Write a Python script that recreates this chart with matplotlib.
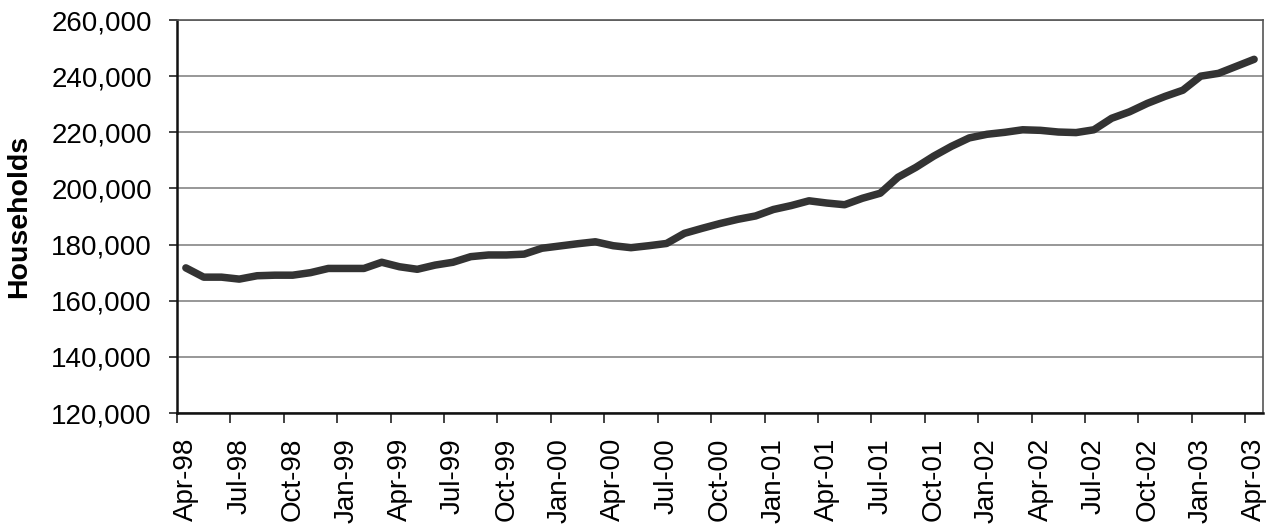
import pandas as pd
import numpy as np
import matplotlib.pyplot as plt
from matplotlib.ticker import FuncFormatter, FixedLocator

# =========================
# Data: monthly households, Apr-98 .. Apr-03
# =========================
start_month = '1998-04-01'
households = [
    171700, 168400, 168400, 167700, 168900, 169100, 169100, 170000, 171500, 171500,
    171500, 173700, 172100, 171200, 172700, 173700, 175700, 176300, 176300, 176600,
    178700, 179500, 180300, 181000, 179600, 178900, 179600, 180400, 184000, 185800,
    187500, 189000, 190200, 192500, 193900, 195600, 194800, 194200, 196500, 198300,
    204000, 207500, 211500, 215000, 218000, 219300, 220000, 220900, 220700, 220100,
    219900, 220900, 225000, 227300, 230300, 232800, 235000, 240000, 241000, 243500,
    246000,
]
y_ticks = [120000, 140000, 160000, 180000, 200000, 220000, 240000, 260000]

months = pd.date_range(start=start_month, periods=len(households), freq='MS')
month_labels = [d.strftime('%b-%y') for d in months]

plt.rcParams['font.family'] = ['Liberation Sans', 'DejaVu Sans']

fig = plt.figure(figsize=(12.75, 5.31), dpi=100)
ax = fig.add_axes([0.1388, 0.2222, 0.8518, 0.7401])

x = np.arange(len(households))
ax.plot(x, households, color='#333333', linewidth=5.4, solid_capstyle='round',
        solid_joinstyle='round', zorder=3)

# axes limits / grid
ax.set_xlim(-0.5, len(households) - 0.5)
ax.set_ylim(y_ticks[0], y_ticks[-1])
ax.set_yticks(y_ticks)
ax.yaxis.set_major_formatter(FuncFormatter(lambda v, p: f'{int(v):,}'))
ax.grid(axis='y', color='#7a7a7a', linewidth=1.1)
ax.set_axisbelow(True)

# x axis: tick marks between months, labels centred on every third month
label_idx = list(range(0, len(households), 3))
ax.xaxis.set_major_locator(FixedLocator([i - 0.5 for i in label_idx]))
ax.xaxis.set_major_formatter(FuncFormatter(lambda v, p: ''))
ax.xaxis.set_minor_locator(FixedLocator(label_idx))
ax.set_xticklabels([month_labels[i] for i in label_idx], minor=True, rotation=90)

ax.tick_params(axis='x', which='major', length=7, width=1.2, color='#222222', direction='out')
ax.tick_params(axis='x', which='minor', length=0, pad=18, labelsize=20)
ax.tick_params(axis='y', length=6, width=1.2, color='#222222', direction='out', pad=12, labelsize=20)

for side in ['left', 'bottom']:
    ax.spines[side].set_color('#111111')
    ax.spines[side].set_linewidth(1.8)
for side in ['top', 'right']:
    ax.spines[side].set_color('#555555')
    ax.spines[side].set_linewidth(1.2)

ax.set_ylabel('Households', fontsize=20.5, fontweight='bold', labelpad=14)

fig.savefig('out.png', dpi=100)
